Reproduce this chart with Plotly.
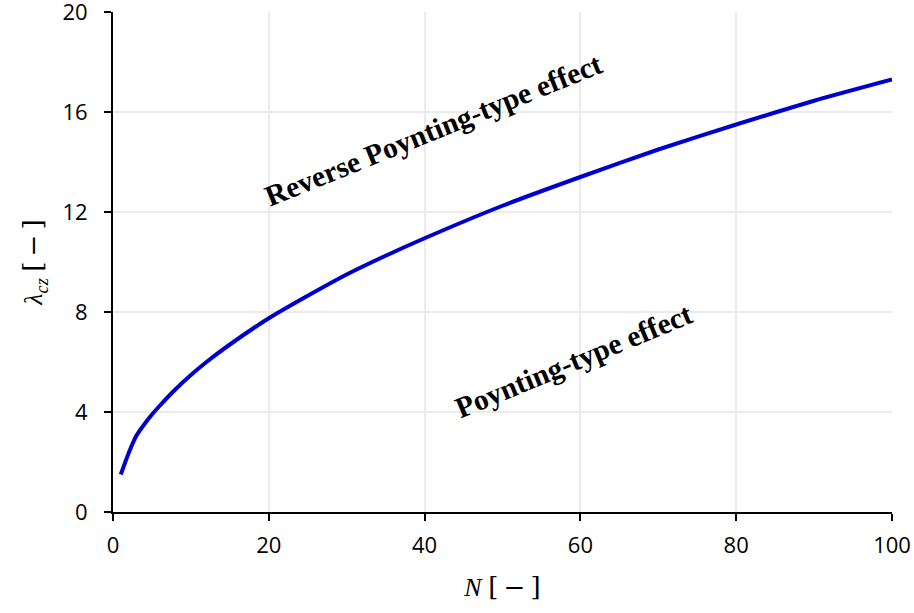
import plotly.graph_objects as go

# Data
N_values = [1, 2, 3, 4, 5, 6, 8, 10, 12, 15, 20, 25, 30, 35, 40, 50, 60, 70, 80, 90, 100]
lambda_cz = [1.5, 2.35, 3.05, 3.5, 3.9, 4.25, 4.9, 5.48, 6.0, 6.7, 7.75, 8.65, 9.5,
             10.25, 10.95, 12.25, 13.4, 14.5, 15.5, 16.45, 17.3]

x_ticks = [0, 20, 40, 60, 80, 100]
y_ticks = [0, 4, 8, 12, 16, 20]

region_labels = ["Reverse Poynting-type effect", "Poynting-type effect"]
region_x = [41.1, 59.1]
region_y = [15.3, 6.05]
region_angle = [-22, -22.5]

fig = go.Figure()
fig.add_trace(go.Scatter(
    x=N_values, y=lambda_cz, mode="lines",
    line=dict(color="#0000CC", width=4, shape="spline", smoothing=0.6),
    showlegend=False, hoverinfo="skip", cliponaxis=False,
))

for txt, xx, yy, ang in zip(region_labels, region_x, region_y, region_angle):
    fig.add_annotation(
        x=xx, y=yy, xref="x", yref="y", text="<b>" + txt + "</b>",
        showarrow=False, textangle=ang,
        font=dict(family="Liberation Serif", size=29.5, color="black"),
    )

axis_common = dict(
    showline=True, linecolor="black", linewidth=2,
    ticks="outside", ticklen=7, tickwidth=2, tickcolor="black",
    showgrid=True, gridcolor="#ebebeb", gridwidth=1.5,
    zeroline=False, mirror=False, automargin=False,
    ticklabeloverflow="allow",
    tickfont=dict(family="Open Sans", size=22, color="black"),
)

unit = "<span style='font-family:DejaVu Serif'>[\u2009\u2212\u2009]</span>"

fig.update_xaxes(range=[0, 100], tickvals=x_ticks, ticktext=[str(v) for v in x_ticks],
                 ticklabelstandoff=6,
                 title=dict(text="<i>N</i> " + unit,
                            font=dict(family="Liberation Serif", size=26, color="black"),
                            standoff=19),
                 **axis_common)
fig.update_yaxes(range=[0, 20], tickvals=y_ticks, ticktext=[str(v) for v in y_ticks],
                 ticklabelstandoff=12,
                 title=dict(text="<i>λ<sub>cz</sub></i> " + unit,
                            font=dict(family="Liberation Serif", size=26, color="black"),
                            standoff=12),
                 **axis_common)

fig.update_layout(
    width=914, height=613,
    margin=dict(l=113, r=22, t=12, b=101, autoexpand=False),
    paper_bgcolor="white", plot_bgcolor="white",
)

fig.write_html("out.html", config={"displayModeBar": False},
               post_script="document.body.style.margin='0';")
